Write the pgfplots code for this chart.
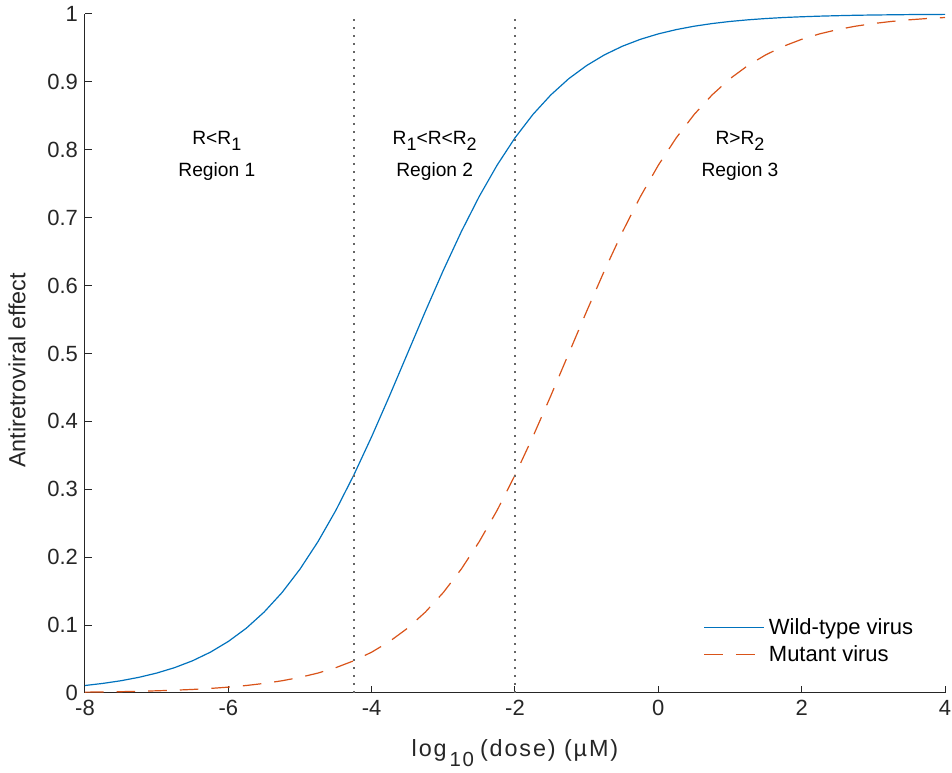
\documentclass[border=0pt]{standalone}
\usepackage{fontspec}
\setmainfont{Liberation Sans}
\usepackage{pgfplots}
\pgfplotsset{compat=1.18}

\definecolor{mblue}{rgb}{0,0.447,0.741}
\definecolor{morange}{rgb}{0.85,0.325,0.098}
\definecolor{maxis}{rgb}{0.15,0.15,0.15}
\newcommand{\sub}[1]{\raisebox{-0.6ex}{\fontsize{9}{9}\selectfont #1}}

\pgfplotstableread{
x      wt      mut
-8.00  0.0110  0.0012
-7.75  0.0141  0.0015
-7.50  0.0180  0.0019
-7.25  0.0230  0.0025
-7.00  0.0293  0.0032
-6.75  0.0373  0.0041
-6.50  0.0474  0.0052
-6.25  0.0601  0.0067
-6.00  0.0759  0.0086
-5.75  0.0953  0.0110
-5.50  0.1192  0.0141
-5.25  0.1480  0.0180
-5.00  0.1824  0.0230
-4.75  0.2227  0.0293
-4.50  0.2689  0.0373
-4.25  0.3208  0.0474
-4.00  0.3775  0.0601
-3.75  0.4378  0.0759
-3.50  0.5000  0.0953
-3.25  0.5622  0.1192
-3.00  0.6225  0.1480
-2.75  0.6792  0.1824
-2.50  0.7311  0.2227
-2.25  0.7773  0.2689
-2.00  0.8176  0.3208
-1.75  0.8520  0.3775
-1.50  0.8808  0.4378
-1.25  0.9047  0.5000
-1.00  0.9241  0.5622
-0.75  0.9399  0.6225
-0.50  0.9526  0.6792
-0.25  0.9627  0.7311
 0.00  0.9707  0.7773
 0.25  0.9770  0.8176
 0.50  0.9820  0.8520
 0.75  0.9859  0.8808
 1.00  0.9890  0.9047
 1.25  0.9914  0.9241
 1.50  0.9933  0.9399
 1.75  0.9948  0.9526
 2.00  0.9959  0.9627
 2.25  0.9968  0.9707
 2.50  0.9975  0.9770
 2.75  0.9981  0.9820
 3.00  0.9985  0.9859
 3.25  0.9988  0.9890
 3.50  0.9991  0.9914
 3.75  0.9993  0.9933
 4.00  0.9994  0.9948
}\curves

\begin{document}
\begin{tikzpicture}
\begin{axis}[
    scale only axis,
    width=430pt, height=339.5pt,
    xmin=-8, xmax=4, ymin=0, ymax=1,
    xtick={-8,-6,...,4},
    ytick={0,0.1,...,1},
    axis x line=bottom, axis y line=left,
    axis line style={draw=maxis, line width=0.5pt, -},
    tick style={draw=maxis, line width=0.5pt},
    tick align=inside,
    major tick length=3.5pt,
    /pgf/number format/assume math mode=true,
    ticklabel style={font=\fontsize{11}{13}\selectfont, text=maxis},
    yticklabel style={/pgf/number format/fixed},
    label style={font=\fontsize{11.7}{14}\selectfont, text=maxis},
    xlabel={\addfontfeature{LetterSpace=8}log\hspace{1.5pt}\raisebox{-5pt}{\fontsize{10.2}{11}\selectfont 10}\hspace{3pt}(dose) (µM)},
    xlabel style={yshift=-5pt},
    ylabel={Antiretroviral effect},
    ylabel style={at={(ticklabel cs:0.475,4pt)}},
    legend style={draw=none, fill=none, at={(0.712,0.03)}, anchor=south west,
        font=\fontsize{11}{13}\selectfont, row sep=0pt},
    legend cell align=left,
    legend image code/.code={\draw[#1] (0pt,0pt) -- (30pt,0pt);},
]
\coordinate (sw) at (rel axis cs:0,0);
\coordinate (ne) at (rel axis cs:1,1);
\addplot[mblue, line width=0.6pt] table[x=x, y=wt] {\curves};
\addlegendentry{Wild-type virus}
\addplot[morange, line width=0.6pt, dash pattern=on 9.3pt off 6.5pt] table[x=x, y=mut] {\curves};
\addlegendentry{Mutant virus}
\addplot[black!60, line width=0.9pt, dash pattern=on 0.9pt off 3.1pt, forget plot] coordinates {(-4.25,0) (-4.25,1)};
\addplot[black!60, line width=0.9pt, dash pattern=on 0.9pt off 3.1pt, forget plot] coordinates {(-2,0) (-2,1)};
\node[anchor=base, font=\fontsize{9.6}{12}\selectfont] at (axis cs:-6.16,0.808) {R<R\sub{1}};
\node[anchor=base, font=\fontsize{9.6}{12}\selectfont] at (axis cs:-6.16,0.760) {Region 1};
\node[anchor=base, font=\fontsize{9.6}{12}\selectfont] at (axis cs:-3.12,0.808) {R\sub{1}<R<R\sub{2}};
\node[anchor=base, font=\fontsize{9.6}{12}\selectfont] at (axis cs:-3.12,0.760) {Region 2};
\node[anchor=base, font=\fontsize{9.6}{12}\selectfont] at (axis cs:1.14,0.808) {R>R\sub{2}};
\node[anchor=base, font=\fontsize{9.6}{12}\selectfont] at (axis cs:1.14,0.760) {Region 3};
\end{axis}
\pgfresetboundingbox
\path ([shift={(-42.5pt,-40pt)}]sw) rectangle ([shift={(3.5pt,7pt)}]ne);
\end{tikzpicture}
\end{document}
